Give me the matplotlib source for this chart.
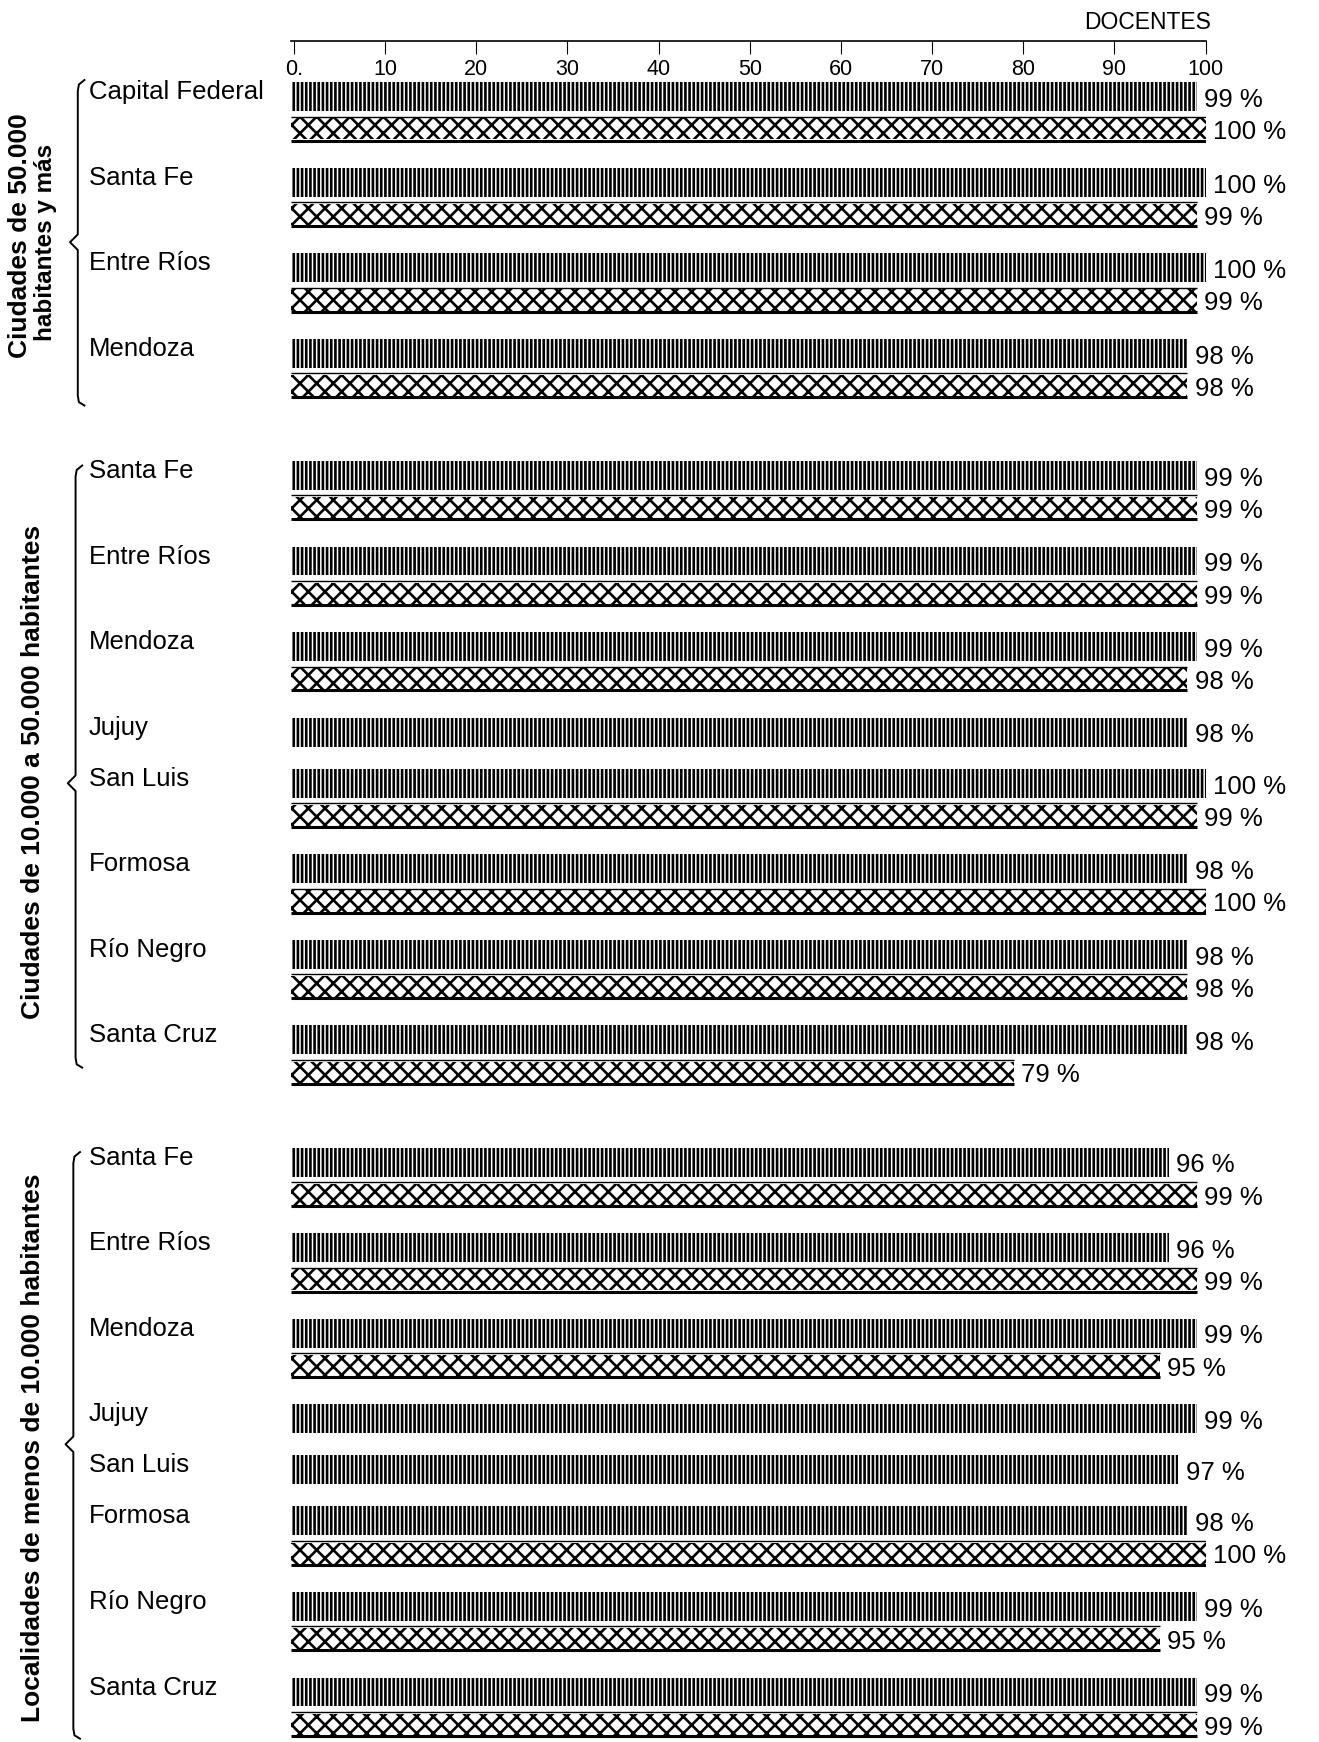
import matplotlib
matplotlib.use("Agg")
import matplotlib.pyplot as plt

plt.rcParams['font.family'] = ['Liberation Sans', 'DejaVu Sans']
plt.rcParams['hatch.linewidth'] = 1.9

# ---------------- data ----------------
group_titles = ["Ciudades de 50.000", "Ciudades de 10.000 a 50.000 habitantes",
                "Localidades de menos de 10.000 habitantes"]
group1_subtitle = "habitantes y más"

cats_g1 = ["Capital Federal", "Santa Fe", "Entre Ríos", "Mendoza"]
a_g1 = [99, 100, 100, 98]
b_g1 = [100, 99, 99, 98]

cats_g2 = ["Santa Fe", "Entre Ríos", "Mendoza", "Jujuy", "San Luis", "Formosa",
           "Río Negro", "Santa Cruz"]
a_g2 = [99, 99, 99, 98, 100, 98, 98, 98]
b_g2 = [99, 99, 98, None, 99, 100, 98, 79]

cats_g3 = ["Santa Fe", "Entre Ríos", "Mendoza", "Jujuy", "San Luis", "Formosa",
           "Río Negro", "Santa Cruz"]
a_g3 = [96, 96, 99, 99, 97, 98, 99, 99]
b_g3 = [99, 99, 95, None, None, 100, 95, 99]

tick_values = [0, 10, 20, 30, 40, 50, 60, 70, 80, 90, 100]
tick_labels = ["0.", "10", "20", "30", "40", "50", "60", "70", "80", "90", "100"]
axis_title = "DOCENTES"

# ---------------- layout (reference pixel units, 1187 x 1568) ----------------
W, H = 1187.0, 1568.0
X0, X100 = 262.0, 1085.0
fig = plt.figure(figsize=(13.19, 17.42), dpi=100)

ov = fig.add_axes([0, 0, 1, 1])
ov.set_xlim(0, W)
ov.set_ylim(H, 0)
ov.axis('off')
ov.patch.set_alpha(0)

ax = fig.add_axes([X0 / W, 0, (X100 - X0) / W, 1])
ax.set_xlim(0, 100)
ax.set_ylim(H, 0)
ax.axis('off')
ax.patch.set_alpha(0)

# top scale
sx = fig.add_axes([X0 / W, 1 - 37 / H, (X100 - X0) / W, 0.0001])
sx.set_xlim(-0.3, 100)
for s in ['top', 'left', 'right']:
    sx.spines[s].set_visible(False)
sx.spines['bottom'].set_linewidth(1.2)
sx.set_yticks([])
sx.set_xticks(tick_values)
sx.set_xticklabels(tick_labels, fontsize=15.5)
sx.tick_params(axis='x', direction='out', length=9, width=0.8, pad=4)
sx.patch.set_alpha(0)
ov.text(1090, 20, axis_title, ha='right', va='center', fontsize=16.5)

groups = [(cats_g1, a_g1, b_g1), (cats_g2, a_g2, b_g2), (cats_g3, a_g3, b_g3)]

PITCH2, PITCH1, GROUP_GAP = 77.0, 46.0, 33.0
BAR_A_H, BAR_B_H, B_OFF = 26.0, 19.0, 29.0
y = 87.0
for gi, (cats, avals, bvals) in enumerate(groups):
    if gi > 0:
        y += GROUP_GAP
    for cat, av, bv in zip(cats, avals, bvals):
        ax.barh(y, av, height=BAR_A_H, left=0, color='white', edgecolor='black',
                linewidth=0, hatch='||||')
        ax.text(av + 0.8, y + 3, f"{av} %", ha='left', va='center', fontsize=18.5)
        ov.text(80, y - 4, cat, ha='left', va='center', fontsize=18.5)
        if bv is not None:
            yb = y + B_OFF
            ax.barh(yb, bv, height=BAR_B_H, left=0, color='white', edgecolor='black',
                    linewidth=0, hatch='xx')
            ax.hlines(yb - BAR_B_H / 2 - 1.5, 0, bv, color='black', lw=1.0)
            ax.hlines(yb + BAR_B_H / 2 + 1, 0, bv, color='black', lw=2.2)
            ax.text(bv + 0.8, yb + 3, f"{bv} %", ha='left', va='center', fontsize=18.5)
            y += PITCH2
        else:
            y += PITCH1


def brace(x, top, bottom, mid):
    xs = [x + 6, x + 1, x, x, x - 7, x, x, x + 1, x + 6]
    ys = [top - 4, top, top + 6, mid - 7, mid, mid + 7, bottom - 6, bottom, bottom + 3]
    ov.plot(xs, ys, color='black', lw=1.4, solid_joinstyle='round')


brace(70, 76, 362, 218)
brace(68, 423, 958, 705)
brace(66, 1041, 1562, 1300)

ov.text(18, 212, group_titles[0], rotation=90, ha='center', va='center',
        fontsize=19, fontweight='bold')
ov.text(41, 218, group1_subtitle, rotation=90, ha='center', va='center',
        fontsize=17.5, fontweight='bold')
ov.text(30, 695, group_titles[1], rotation=90, ha='center', va='center',
        fontsize=19, fontweight='bold')
ov.text(30, 1303, group_titles[2], rotation=90, ha='center', va='center',
        fontsize=19, fontweight='bold')

fig.savefig("out.png", dpi=100, facecolor='white')
